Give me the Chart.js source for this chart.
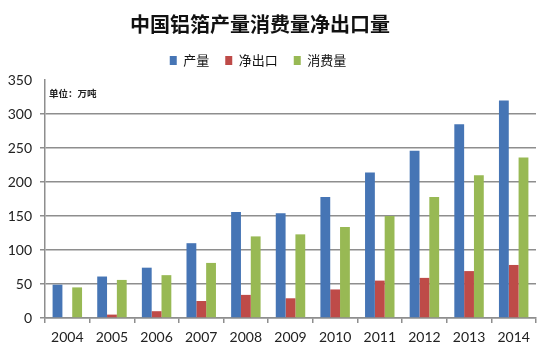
<!DOCTYPE html>
<html><head><meta charset="utf-8">
<script src="https://cdn.jsdelivr.net/npm/chart.js@4.4.1/dist/chart.umd.min.js"></script>
<style>html,body{margin:0;padding:0;background:#fff}#wrap{width:550px;height:358px}</style>
</head><body><div id="wrap"><canvas id="c"></canvas></div>
<script>
const years = ['2004','2005','2006','2007','2008','2009','2010','2011','2012','2013','2014'];
const production = [49, 61, 74, 110, 156, 154, 178, 214, 246, 285, 320];
const netExport = [0, 5, 10, 25, 34, 29, 42, 55, 59, 69, 78];
const consumption = [45, 56, 63, 81, 120, 123, 134, 150, 178, 210, 236];
const seriesNames = ['产量', '净出口', '消费量'];
const titleText = '中国铝箔产量消费量净出口量';
const unitText = '单位：万吨';

const unitPlugin = {
  id: 'unit',
  afterLayout(chart) {
    const lg = chart.legend, tb = chart.titleBlock;
    if (lg) { lg.left -= 10; lg.right -= 10; lg.top -= 3; lg.bottom -= 3; }
    if (tb) { tb.left -= 8; tb.right -= 8; tb.top -= 2; tb.bottom -= 2; }
  },
  afterDatasetsDraw(chart) {
    const ctx = chart.ctx, a = chart.chartArea;
    ctx.save();
    ctx.font = 'bold 9.5px "Noto Sans CJK SC"';
    ctx.fillStyle = '#222';
    ctx.textBaseline = 'middle';
    ctx.fillText(unitText, a.left + 4, a.top + 13);
    ctx.restore();
  }
};

new Chart(document.getElementById('c'), {
  type: 'bar',
  data: {
    labels: years,
    datasets: [
      {label: seriesNames[0], data: production, backgroundColor: '#4675b5'},
      {label: seriesNames[1], data: netExport, backgroundColor: '#be4b48'},
      {label: seriesNames[2], data: consumption, backgroundColor: '#98b954'}
    ]
  },
  options: {
    responsive: true,
    maintainAspectRatio: false,
    animation: false,
    layout: {padding: {left: 0, right: 14, top: 7, bottom: 0}},
    datasets: {bar: {barPercentage: 1, categoryPercentage: 0.66}},
    plugins: {
      title: {display: true, text: titleText, color: '#111',
        font: {family: '"Noto Sans CJK SC"', size: 20, weight: 'bold'},
        padding: {top: 7, bottom: 3}},
      legend: {display: true, position: 'top',
        labels: {boxWidth: 7, boxHeight: 9, padding: 16, color: '#111',
          font: {family: '"Noto Sans CJK SC"', size: 13}}},
      tooltip: {enabled: false}
    },
    scales: {
      x: {
        grid: {display: true, drawOnChartArea: false, tickLength: 5, color: '#8e8e8e', lineWidth: 1.5},
        border: {color: '#8e8e8e', width: 1.5},
        ticks: {color: '#222', font: {family: 'Lato', size: 14}, padding: 6},
        afterFit(s) { s.height = 40; }
      },
      y: {
        min: 0, max: 350,
        grid: {tickLength: 5, lineWidth: 1.5,
          color: c => (c.tick && c.tick.value === 350) ? 'rgba(0,0,0,0)' : '#8e8e8e'},
        border: {color: '#8e8e8e', width: 1.5},
        ticks: {stepSize: 50, color: '#222', font: {family: 'Lato', size: 14}, padding: 8},
        afterFit(s) { s.width = 45; }
      }
    }
  },
  plugins: [unitPlugin]
});
</script></body></html>
